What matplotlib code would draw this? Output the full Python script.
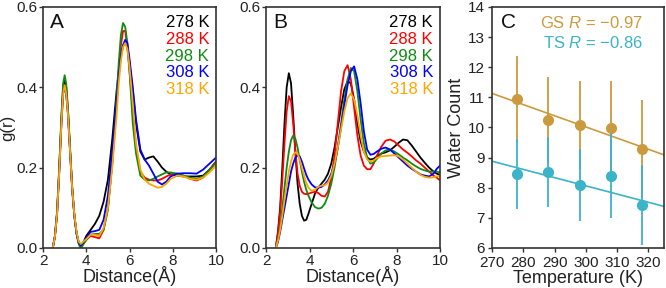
import numpy as np
import matplotlib
matplotlib.use("Agg")
import matplotlib.pyplot as plt

plt.rcParams['font.family'] = ['Liberation Sans', 'DejaVu Sans']
plt.rcParams['mathtext.fontset'] = 'custom'
plt.rcParams['mathtext.it'] = 'Liberation Sans:italic'
plt.rcParams['mathtext.rm'] = 'Liberation Sans'

temps_lbl = ["278 K", "288 K", "298 K", "308 K", "318 K"]
colors = ["#000000", "#FF0000", "#128A12", "#0000FF", "#FFA500"]

# ---------------- Panel A ----------------
xa = [2.45, 2.55, 2.65, 2.75, 2.85, 2.93, 3.0, 3.07, 3.15, 3.25, 3.35, 3.45, 3.55, 3.65, 3.75, 3.85,
      4.0, 4.2, 4.4, 4.6, 4.8, 5.0, 5.2, 5.4, 5.5, 5.6, 5.7, 5.8, 5.9, 6.0, 6.15, 6.3, 6.5, 6.7, 6.9,
      7.1, 7.3, 7.5, 7.7, 7.9, 8.2, 8.5, 8.8, 9.1, 9.4, 9.7, 10.0]
a_278 = [0.0, 0.03, 0.09, 0.2, 0.32, 0.40, 0.42, 0.40, 0.345, 0.245, 0.15, 0.08, 0.037, 0.013, 0.005, 0.012,
         0.03, 0.045, 0.06, 0.08, 0.115, 0.17, 0.27, 0.39, 0.44, 0.48, 0.503, 0.51, 0.50, 0.46, 0.39, 0.31, 0.24, 0.22, 0.225,
         0.228, 0.215, 0.20, 0.19, 0.183, 0.18, 0.178, 0.178, 0.178, 0.18, 0.195, 0.215]
a_288 = [0.0, 0.028, 0.085, 0.19, 0.31, 0.385, 0.405, 0.385, 0.335, 0.24, 0.145, 0.08, 0.036, 0.012, 0.003, 0.01,
         0.02, 0.03, 0.027, 0.024, 0.045, 0.10, 0.21, 0.35, 0.44, 0.505, 0.54, 0.54, 0.50, 0.44, 0.34, 0.25, 0.19, 0.175, 0.17,
         0.168, 0.168, 0.172, 0.178, 0.183, 0.185, 0.18, 0.172, 0.168, 0.175, 0.195, 0.215]
a_298 = [0.0, 0.03, 0.09, 0.2, 0.33, 0.41, 0.43, 0.41, 0.35, 0.25, 0.15, 0.08, 0.035, 0.01, -0.003, 0.008,
         0.02, 0.033, 0.035, 0.035, 0.045, 0.095, 0.21, 0.37, 0.46, 0.53, 0.56, 0.55, 0.51, 0.44, 0.31, 0.235, 0.18, 0.17, 0.168,
         0.172, 0.178, 0.183, 0.188, 0.188, 0.185, 0.18, 0.175, 0.172, 0.178, 0.195, 0.212]
a_308 = [0.0, 0.028, 0.085, 0.19, 0.31, 0.385, 0.40, 0.385, 0.335, 0.24, 0.145, 0.08, 0.037, 0.014, 0.006, 0.012,
         0.025, 0.04, 0.042, 0.045, 0.07, 0.13, 0.24, 0.36, 0.43, 0.475, 0.505, 0.518, 0.51, 0.47, 0.40, 0.32, 0.245, 0.22, 0.205,
         0.185, 0.165, 0.158, 0.165, 0.178, 0.185, 0.186, 0.186, 0.185, 0.195, 0.21, 0.225]
a_318 = [0.0, 0.028, 0.085, 0.19, 0.31, 0.385, 0.405, 0.385, 0.335, 0.24, 0.147, 0.082, 0.04, 0.016, 0.01, 0.015,
         0.022, 0.033, 0.033, 0.03, 0.05, 0.10, 0.20, 0.33, 0.41, 0.465, 0.50, 0.51, 0.495, 0.45, 0.36, 0.26, 0.195, 0.17, 0.16,
         0.155, 0.15, 0.152, 0.16, 0.172, 0.18, 0.178, 0.172, 0.17, 0.175, 0.188, 0.205]

# ---------------- Panel B ----------------
xb = [2.45, 2.55, 2.65, 2.75, 2.85, 2.95, 3.05, 3.15, 3.25, 3.35, 3.45, 3.55, 3.65, 3.75, 3.85, 3.95,
      4.1, 4.25, 4.4, 4.55, 4.7, 4.85, 5.0, 5.15, 5.3, 5.45, 5.6, 5.75, 5.9, 6.05, 6.2, 6.35, 6.5, 6.65,
      6.8, 6.95, 7.1, 7.3, 7.5, 7.7, 7.9, 8.1, 8.3, 8.5, 8.7, 8.9, 9.1, 9.3, 9.5, 9.7, 9.85, 10.0]
b_278 = [0.0, 0.04, 0.10, 0.20, 0.31, 0.40, 0.435, 0.41, 0.33, 0.24, 0.16, 0.11, 0.08, 0.068, 0.07, 0.085,
         0.11, 0.135, 0.15, 0.16, 0.17, 0.185, 0.21, 0.25, 0.30, 0.35, 0.395, 0.415, 0.41, 0.37, 0.31, 0.265, 0.24, 0.225,
         0.22, 0.222, 0.228, 0.235, 0.238, 0.243, 0.252, 0.262, 0.27, 0.268, 0.255, 0.24, 0.225, 0.212, 0.20, 0.19, 0.185, 0.182]
b_288 = [0.0, 0.035, 0.09, 0.17, 0.26, 0.34, 0.378, 0.365, 0.31, 0.24, 0.185, 0.155, 0.14, 0.135, 0.134, 0.135,
         0.138, 0.14, 0.137, 0.13, 0.128, 0.14, 0.175, 0.23, 0.31, 0.39, 0.44, 0.455, 0.42, 0.35, 0.28, 0.23, 0.205, 0.196,
         0.196, 0.21, 0.23, 0.252, 0.267, 0.27, 0.265, 0.255, 0.245, 0.237, 0.228, 0.218, 0.21, 0.20, 0.19, 0.18, 0.175, 0.168]
b_298 = [0.0, 0.02, 0.05, 0.10, 0.15, 0.20, 0.24, 0.268, 0.28, 0.272, 0.25, 0.22, 0.19, 0.165, 0.145, 0.13,
         0.113, 0.102, 0.098, 0.10, 0.11, 0.13, 0.16, 0.20, 0.25, 0.31, 0.37, 0.42, 0.448, 0.44, 0.39, 0.32, 0.26, 0.225,
         0.21, 0.212, 0.222, 0.235, 0.243, 0.245, 0.24, 0.233, 0.225, 0.218, 0.21, 0.203, 0.197, 0.193, 0.19, 0.19, 0.19, 0.188]
b_308 = [0.0, 0.015, 0.04, 0.07, 0.10, 0.13, 0.16, 0.19, 0.21, 0.225, 0.23, 0.228, 0.215, 0.198, 0.182, 0.17,
         0.158, 0.151, 0.15, 0.152, 0.158, 0.168, 0.185, 0.21, 0.25, 0.30, 0.355, 0.405, 0.44, 0.452, 0.42, 0.36, 0.29, 0.245,
         0.232, 0.234, 0.24, 0.247, 0.25, 0.245, 0.235, 0.225, 0.215, 0.205, 0.197, 0.19, 0.183, 0.18, 0.178, 0.185, 0.197, 0.205]
b_318 = [0.0, 0.018, 0.045, 0.08, 0.12, 0.155, 0.19, 0.215, 0.232, 0.238, 0.235, 0.22, 0.20, 0.18, 0.162, 0.15,
         0.142, 0.145, 0.152, 0.155, 0.156, 0.163, 0.18, 0.21, 0.25, 0.295, 0.34, 0.373, 0.385, 0.37, 0.33, 0.28, 0.24, 0.22,
         0.215, 0.218, 0.224, 0.228, 0.229, 0.23, 0.231, 0.228, 0.22, 0.21, 0.20, 0.19, 0.182, 0.177, 0.175, 0.176, 0.178, 0.18]

# ---------------- Panel C ----------------
T = [278, 288, 298, 308, 318]
gs_mean = [10.94, 10.24, 10.08, 9.98, 9.30]
gs_err = [1.42, 1.42, 1.46, 1.56, 1.62]
ts_mean = [8.45, 8.51, 8.09, 8.40, 7.43]
ts_err = [1.16, 1.16, 1.21, 1.40, 1.32]
fit_T = [270, 325]
gs_fit = [11.13, 9.09]
ts_fit = [8.88, 7.38]
gs_color = "#CC9A3E"
ts_color = "#3BB3C9"

fig = plt.figure(figsize=(6.66, 2.88), dpi=100)
axA = fig.add_axes([0.0646, 0.139, 0.2598, 0.837])
axB = fig.add_axes([0.3994, 0.139, 0.2613, 0.837])
axC = fig.add_axes([0.7387, 0.139, 0.2583, 0.837])

spine_c = "#333333"
tick_fs = 11
label_fs = 13


def style(ax):
    for s in ax.spines.values():
        s.set_color(spine_c)
        s.set_linewidth(1.2)
    ax.tick_params(direction='out', length=3, width=1, color=spine_c,
                   labelsize=tick_fs, labelcolor="#222222", pad=1.2,
                   top=False, right=False)


for ax, xs, series, letter in [(axA, xa, [a_278, a_288, a_298, a_308, a_318], "A"),
                               (axB, xb, [b_278, b_288, b_298, b_308, b_318], "B")]:
    for ys, c in zip(series, colors):
        ax.plot(xs, ys, color=c, lw=1.3, solid_joinstyle='round')
    ax.set_xlim(2, 10)
    ax.set_ylim(0, 0.6)
    ax.set_xticks([2, 4, 6, 8, 10])
    ax.set_yticks([0.0, 0.2, 0.4, 0.6])
    ax.set_xlabel("Distance(Å)", fontsize=label_fs, labelpad=-1, color="#222222")
    style(ax)
    ax.text(0.04, 0.935, letter, transform=ax.transAxes, fontsize=15,
            ha='left', va='center', color="#111111")
    for i, (lbl, c) in enumerate(zip(temps_lbl, colors)):
        ax.text(0.96, 0.934 - i * 0.069, lbl, transform=ax.transAxes, color=c,
                fontsize=12, ha='right', va='center')

axA.set_ylabel("g(r)", fontsize=12, labelpad=0.5, color="#222222")
axA.set_yticklabels(["0.0", "0.2", "0.4", "0.6"])
axB.set_yticklabels(["0.0", "0.2", "0.4", "0.6"])

# Panel C
axC.errorbar(T, gs_mean, yerr=gs_err, fmt='o', color=gs_color, ms=7,
             elinewidth=1.3, capsize=0, zorder=3)
axC.errorbar(T, ts_mean, yerr=ts_err, fmt='o', color=ts_color, ms=7,
             elinewidth=1.3, capsize=0, zorder=4)
axC.plot(fit_T, gs_fit, color=gs_color, lw=1.2, zorder=2)
axC.plot(fit_T, ts_fit, color=ts_color, lw=1.2, zorder=2)
axC.set_xlim(270, 325)
axC.set_ylim(6, 14)
axC.set_xticks([270, 280, 290, 300, 310, 320])
axC.set_yticks(range(6, 15))
axC.set_xlabel("Temperature (K)", fontsize=label_fs, labelpad=0.5, color="#222222")
axC.set_ylabel("Water Count", fontsize=label_fs, labelpad=2, color="#222222")
style(axC)
axC.tick_params(axis='x', pad=2.5)
axC.tick_params(axis='y', pad=2)
axC.text(0.05, 0.935, "C", transform=axC.transAxes, fontsize=15,
         ha='left', va='center', color="#111111")
axC.text(0.876, 0.934, "GS $R$ = −0.97", transform=axC.transAxes, color=gs_color,
         fontsize=12, ha='right', va='center')
axC.text(0.876, 0.852, "TS $R$ = −0.86", transform=axC.transAxes, color=ts_color,
         fontsize=12, ha='right', va='center')

fig.savefig("out.png", dpi=100)
